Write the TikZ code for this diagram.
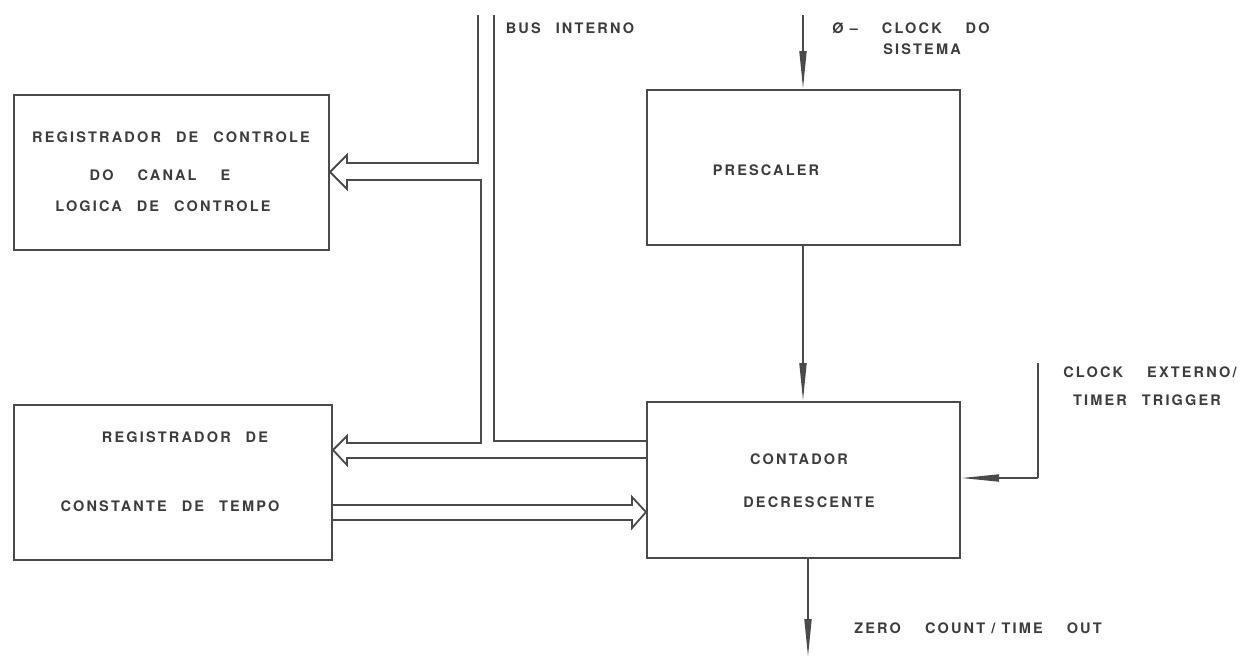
\documentclass[tikz,border=0pt]{standalone}
\usepackage{fontspec}
\newfontfamily\lblfont{TeX Gyre Heros}[LetterSpace=15]
\usetikzlibrary{arrows.meta}
\definecolor{ink}{HTML}{4A4A4A}
\definecolor{txt}{HTML}{3C3C3C}
\begin{document}
\begin{tikzpicture}[x=1pt,y=-1pt,
  box/.style={draw=ink, line width=2pt, inner sep=0pt},
  lbl/.style={inner sep=0pt, text=txt, font=\lblfont\bfseries\fontsize{14.5}{16}\selectfont, text depth=0pt},
  wire/.style={draw=ink, line width=1.8pt, line join=miter},
  sig/.style={draw=ink, line width=1.8pt, -{Triangle[length=38pt,width=7pt]}}
]
\newcommand{\ws}{\hspace{15pt}}
\newcommand{\wws}{\hspace{24pt}}
\fill[white] (0,0) rectangle (1245,657);
\useasboundingbox (0,0) rectangle (1245,657);

% boxes
\node[box, minimum width=315pt, minimum height=155pt] (ctrl) at (171.5,172.5) {};
\node[box, minimum width=318pt, minimum height=155pt] (tconst) at (173,482.5) {};
\node[box, minimum width=313pt, minimum height=155pt] (pre) at (803.5,167.5) {};
\node[box, minimum width=313pt, minimum height=156pt] (cnt) at (803.5,480) {};

% box texts
\node[lbl] (t1a) at (171,137) {REGISTRADOR\ws DE\ws CONTROLE};
\node[lbl] (t1b) at (160,175) {DO\wws CANAL\wws E};
\node[lbl] (t1c) at (163,206) {LOGICA\ws DE\ws CONTROLE};
\node[lbl] (t2a) at (185,437) {REGISTRADOR\ws DE};
\node[lbl] (t2b) at (170,506) {CONSTANTE\ws DE\ws TEMPO};
\node[lbl] (t3) at (766,170) {PRESCALER};
\node[lbl] (t4a) at (799,459) {CONTADOR};
\node[lbl] (t4b) at (809,502) {DECRESCENTE};

% outer labels
\node[lbl] (bus) at (570,28) {BUS\ws INTERNO};
\node[lbl] (clk1) at (911,28) {Ø –\wws CLOCK\wws DO};
\node[lbl] (clk2) at (922,49) {SISTEMA};
\node[lbl] (ext1) at (1150,372) {CLOCK\wws EXTERNO/};
\node[lbl] (ext2) at (1147,400) {TIMER\ws TRIGGER};
\node[lbl] (zero) at (978,628) {ZERO\wws COUNT / TIME\wws OUT};

% internal bus (double-line hollow arrows)
\coordinate (busL) at (478,15);
\coordinate (busR) at (494,15);
\draw[wire] (busL) -- (478,163) -- (347,163) -- (347,155) -- (ctrl.east |- 0,172) -- (347,189) -- (347,180)
  -- (481,180) -- (481,443) -- (347,443) -- (347,436) -- (tconst.east |- 0,450) -- (347,465) -- (347,458)
  -- (cnt.west |- 0,458);
\draw[wire] (busR) -- (494,441) -- (cnt.west |- 0,441);
\draw[wire] (tconst.east |- 0,505) -- (632,505) -- (632,497) -- (cnt.west |- 0,512) -- (632,528) -- (632,520)
  -- (tconst.east |- 0,520);

% signals
\coordinate (clkin) at (803,15);
\draw[sig] (clkin) -- (pre.north -| clkin);
\draw[sig] (pre.south -| 803,0) -- (cnt.north -| 803,0);
\coordinate (extin) at (1038,363);
\draw[wire] (extin) -- (1038,478);
\draw[sig] (1038,478) -- (cnt.east |- 0,478);
\coordinate (zout) at (808,657);
\draw[sig] (cnt.south -| zout) -- (zout);
\end{tikzpicture}
\end{document}
